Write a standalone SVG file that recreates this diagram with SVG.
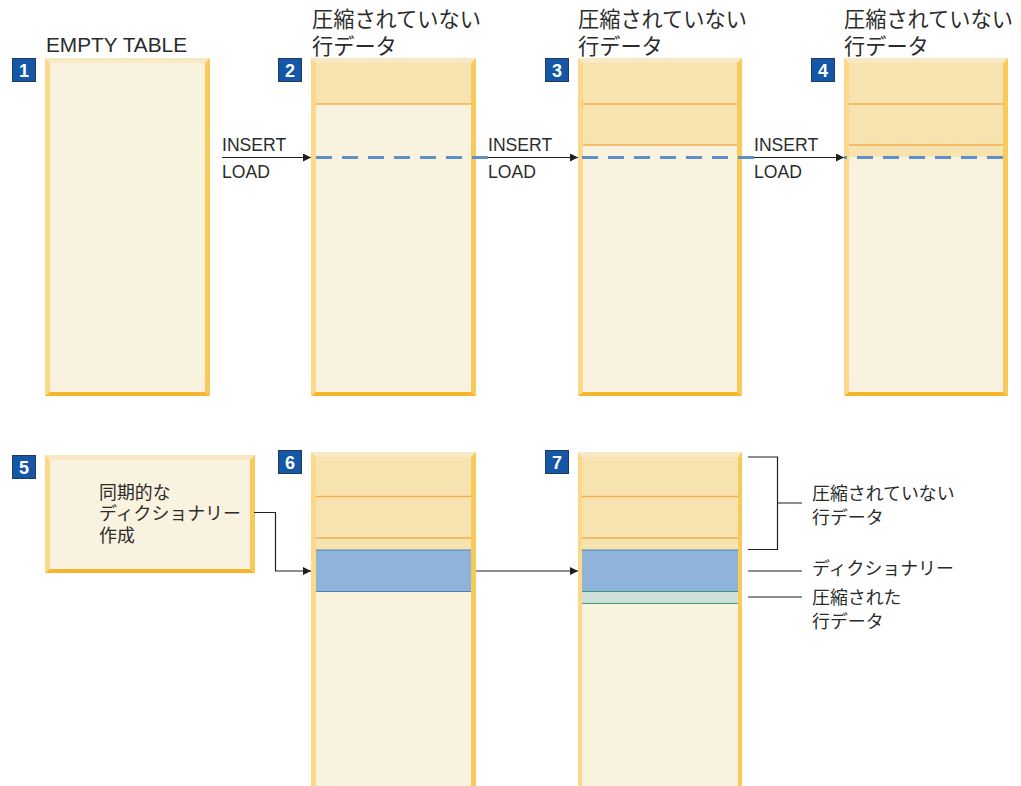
<svg xmlns="http://www.w3.org/2000/svg" width="1021" height="786" viewBox="0 0 1021 786">
<style>
text{font-family:"Liberation Sans","Noto Sans CJK JP",sans-serif;fill:#2b2b2b}
.h{font-size:21.2px}.t{font-size:17.9px}.e{font-size:17.6px}
.n{font-size:18px;font-weight:bold;fill:#fff;text-anchor:middle;font-family:"Liberation Sans",sans-serif}
.b{fill:#1357a6;stroke:#20395c;stroke-width:1}
.in{fill:#f9f2df}.tp{fill:#f8e9c4}.lf{fill:#fbd88a}.rt{fill:#f8ca5a}.bt{fill:#f6b52c}
.band{fill:#f7e3b0}.ol{stroke:#f5ae4e;stroke-width:1.3;fill:none}
.blue{fill:#90b4d9}.bl{stroke:#4a82b5;stroke-width:1.2;fill:none}
.green{fill:#cfe0d8}.gl{stroke:#3f9a7c;stroke-width:1.2;fill:none}
.dash{stroke:#5f8fc9;stroke-width:3;stroke-dasharray:16 10;fill:none}
.c{stroke:#1f1f1f;stroke-width:1.2;fill:none}
.a{marker-end:url(#arr)}
</style>
<defs>
<marker id="arr" markerUnits="userSpaceOnUse" markerWidth="9" markerHeight="9" refX="8" refY="4" orient="auto"><path d="M0 0L8 4L0 8z" fill="#1f1f1f"/></marker>
</defs>

<g id="table1">
<rect class="in" x="45" y="58" width="165" height="338"/>
<path class="tp" d="M45 58H210L205 63H50z"/><path class="lf" d="M45 58L50 63V392L45 396z"/><path class="rt" d="M210 58L205 63V392L210 396z"/><path class="bt" d="M45 396L50 392H205L210 396z"/>
<text class="h" x="46" y="52" style="font-size:20.8px">EMPTY TABLE</text>
<rect class="b" x="12.500" y="58.500" width="23" height="23"/><text class="n" x="24" y="76.500">1</text>
</g>

<g id="table2">
<rect class="in" x="311" y="58" width="165" height="338"/>
<rect class="band" x="316" y="63" width="155" height="41"/>
<path class="ol" d="M316 104H471"/>
<path class="tp" d="M311 58H476L471 63H316z"/><path class="lf" d="M311 58L316 63V392L311 396z"/><path class="rt" d="M476 58L471 63V392L476 396z"/><path class="bt" d="M311 396L316 392H471L476 396z"/>
<text class="h" x="312" y="27">圧縮されていない</text><text class="h" x="312" y="54">行データ</text>
<rect class="b" x="278.500" y="58.500" width="23" height="23"/><text class="n" x="290" y="76.500">2</text>
</g>

<g id="table3">
<rect class="in" x="578" y="58" width="164" height="338"/>
<rect class="band" x="583" y="63" width="154" height="82"/>
<path class="ol" d="M583 104H737M583 145H737"/>
<path class="tp" d="M578 58H742L737 63H583z"/><path class="lf" d="M578 58L583 63V392L578 396z"/><path class="rt" d="M742 58L737 63V392L742 396z"/><path class="bt" d="M578 396L583 392H737L742 396z"/>
<text class="h" x="578" y="27">圧縮されていない</text><text class="h" x="578" y="54">行データ</text>
<rect class="b" x="545.500" y="58.500" width="23" height="23"/><text class="n" x="557" y="76.500">3</text>
</g>

<g id="table4">
<rect class="in" x="844" y="58" width="164" height="338"/>
<rect class="band" x="849" y="63" width="154" height="94"/>
<path class="ol" d="M849 104H1003M849 145H1003"/>
<path class="tp" d="M844 58H1008L1003 63H849z"/><path class="lf" d="M844 58L849 63V392L844 396z"/><path class="rt" d="M1008 58L1003 63V392L1008 396z"/><path class="bt" d="M844 396L849 392H1003L1008 396z"/>
<text class="h" x="844" y="27">圧縮されていない</text><text class="h" x="844" y="54">行データ</text>
<rect class="b" x="811.500" y="58.500" width="23" height="23"/><text class="n" x="823" y="76.500">4</text>
</g>

<g id="box5">
<rect class="in" x="45" y="455" width="210" height="118"/>
<path class="tp" d="M45 455H255L250 460H50z"/><path class="lf" d="M45 455L50 460V569L45 573z"/><path class="rt" d="M255 455L250 460V569L255 573z"/><path class="bt" d="M45 573L50 569H250L255 573z"/>
<text class="t" x="99" y="499">同期的な</text><text class="t" x="99" y="520">ディクショナリー</text><text class="t" x="99" y="542">作成</text>
<rect class="b" x="12.500" y="455.500" width="23" height="23"/><text class="n" x="24" y="473.500">5</text>
</g>

<g id="table6">
<rect class="in" x="311" y="452" width="165" height="334"/>
<rect class="band" x="316" y="457" width="155" height="93"/>
<path class="ol" d="M316 496.500H471M316 538H471"/>
<rect class="blue" x="316" y="550" width="155" height="41.500"/>
<path class="bl" d="M316 550H471M316 591.500H471"/>
<path class="tp" d="M311 452H476L471 457H316z"/><path class="lf" d="M311 452L316 457V786H311z"/><path class="rt" d="M476 452L471 457V786H476z"/>
<rect class="b" x="278.500" y="450.500" width="23" height="23"/><text class="n" x="290" y="468.500">6</text>
</g>

<g id="table7">
<rect class="in" x="578" y="452" width="164" height="334"/>
<rect class="band" x="582" y="457" width="156" height="93"/>
<path class="ol" d="M582 496.500H738M582 538H738"/>
<rect class="green" x="582" y="591" width="156" height="13"/>
<path class="gl" d="M582 603.500H738"/>
<rect class="blue" x="582" y="550" width="156" height="41.500"/>
<path class="bl" d="M582 550H738"/><path class="gl" d="M582 591.500H738"/>
<path class="tp" d="M578 452H742L737 457H583z"/><path class="lf" d="M578 452L582 457V786H578z"/><path class="rt" d="M742 452L738 457V786H742z"/>
<rect class="b" x="545.500" y="450.500" width="23" height="23"/><text class="n" x="557" y="468.500">7</text>
</g>

<g id="connectors">
<path class="dash" d="M316 157.500H488"/>
<path class="dash" d="M582 157.500H754"/>
<path class="dash" stroke-dashoffset="13" d="M844 157.500H1004"/>
<path class="c a" d="M222 157.500H311"/>
<path class="c a" d="M488 157.500H578"/>
<path class="c a" d="M754 157.500H844"/>
<path class="c a" d="M254 512.500H275.500V571H311"/>
<path class="c a" d="M476 571H578"/>
<path class="c" d="M748 457H777.500V549.500H748M777.500 503H802"/>
<path class="c" d="M748 571H802M748 597H802"/>
</g>

<g id="labels">
<text class="e" x="222" y="151">INSERT</text><text class="e" x="222" y="178">LOAD</text>
<text class="e" x="488" y="151">INSERT</text><text class="e" x="488" y="178">LOAD</text>
<text class="e" x="754" y="151">INSERT</text><text class="e" x="754" y="178">LOAD</text>
<text class="t" x="812" y="500">圧縮されていない</text><text class="t" x="812" y="524">行データ</text>
<text class="t" x="812" y="575">ディクショナリー</text>
<text class="t" x="812" y="604">圧縮された</text><text class="t" x="812" y="628">行データ</text>
</g>
</svg>
